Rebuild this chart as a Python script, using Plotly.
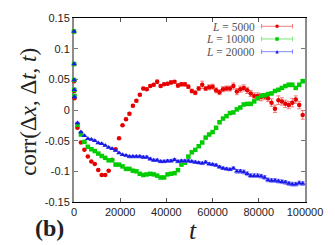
import plotly.graph_objects as go

# ---- data ----
t_start = [0, 20, 50, 100, 200]
t_step = 1500
n_pts = 66
t_main = [t_step * k for k in range(1, n_pts + 1)]
t_vals = t_start + t_main

red_start = [0.128, 0.075, 0.047, 0.031, 0.019]
red_main = [-0.029, -0.053, -0.065, -0.076, -0.084, -0.088, -0.098, -0.106, -0.106, -0.099,
            -0.081, -0.064, -0.046, -0.025, -0.015, -0.006, 0.007, 0.015, 0.025, 0.035,
            0.034, 0.039, 0.041, 0.046, 0.039, 0.042, 0.043, 0.045, 0.046, 0.040,
            0.042, 0.042, 0.038, 0.031, 0.028, 0.035, 0.041, 0.035, 0.037, 0.038,
            0.032, 0.029, 0.034, 0.035, 0.035, 0.039, 0.030, 0.034, 0.036, 0.032,
            0.027, 0.023, 0.023, 0.021, 0.022, 0.019, 0.012, 0.002, 0.016, 0.014,
            0.010, 0.008, 0.012, 0.017, 0.008, -0.008]
red_err_main = [0.001, 0.001, 0.001, 0.001, 0.001, 0.001, 0.001, 0.001, 0.001, 0.001,
                0.001, 0.001, 0.001, 0.001, 0.002, 0.002, 0.002, 0.002, 0.002, 0.002,
                0.002, 0.002, 0.002, 0.003, 0.002, 0.002, 0.002, 0.003, 0.002, 0.003,
                0.003, 0.003, 0.003, 0.003, 0.003, 0.003, 0.006, 0.003, 0.004, 0.004,
                0.004, 0.004, 0.004, 0.004, 0.004, 0.005, 0.005, 0.005, 0.005, 0.005,
                0.005, 0.005, 0.005, 0.006, 0.005, 0.005, 0.006, 0.006, 0.007, 0.006,
                0.006, 0.006, 0.007, 0.006, 0.006, 0.007]

green_start = [0.128, 0.075, 0.049, 0.033, 0.023]
green_main = [-0.024, -0.040, -0.052, -0.060, -0.064, -0.067, -0.071, -0.075, -0.078, -0.082,
              -0.082, -0.089, -0.089, -0.092, -0.096, -0.096, -0.099, -0.100, -0.104, -0.106,
              -0.105, -0.104, -0.105, -0.107, -0.110, -0.110, -0.105, -0.104, -0.103, -0.098,
              -0.089, -0.086, -0.076, -0.069, -0.065, -0.059, -0.053, -0.045, -0.040, -0.036,
              -0.029, -0.020, -0.014, -0.010, -0.005, -0.004, 0.001, 0.004, 0.009, 0.010,
              0.010, 0.014, 0.019, 0.023, 0.024, 0.026, 0.027, 0.031, 0.033, 0.036,
              0.039, 0.041, 0.041, 0.036, 0.041, 0.047]
green_err_main = [0.001, 0.001, 0.001, 0.001, 0.001, 0.001, 0.001, 0.001, 0.001, 0.001,
                  0.001, 0.001, 0.001, 0.001, 0.001, 0.001, 0.001, 0.001, 0.001, 0.001,
                  0.001, 0.001, 0.001, 0.001, 0.001, 0.001, 0.001, 0.001, 0.001, 0.002,
                  0.002, 0.002, 0.002, 0.002, 0.002, 0.002, 0.002, 0.002, 0.002, 0.002,
                  0.002, 0.002, 0.002, 0.002, 0.002, 0.002, 0.002, 0.002, 0.002, 0.002,
                  0.002, 0.002, 0.002, 0.002, 0.002, 0.002, 0.002, 0.002, 0.002, 0.002,
                  0.002, 0.003, 0.003, 0.002, 0.003, 0.003]

blue_start = [0.128, 0.075, 0.049, 0.033, 0.021]
blue_main = [-0.021, -0.036, -0.042, -0.047, -0.048, -0.050, -0.054, -0.055, -0.058, -0.061,
             -0.063, -0.066, -0.070, -0.073, -0.074, -0.076, -0.076, -0.076, -0.076, -0.077,
             -0.077, -0.080, -0.082, -0.082, -0.084, -0.084, -0.083, -0.083, -0.081, -0.084,
             -0.083, -0.083, -0.083, -0.084, -0.085, -0.086, -0.087, -0.085, -0.088, -0.089,
             -0.090, -0.093, -0.095, -0.096, -0.097, -0.095, -0.100, -0.100, -0.101, -0.104,
             -0.107, -0.107, -0.107, -0.108, -0.110, -0.114, -0.115, -0.115, -0.116, -0.117,
             -0.118, -0.120, -0.121, -0.121, -0.119, -0.120]
blue_err_main = [0.001, 0.001, 0.001, 0.001, 0.001, 0.001, 0.001, 0.001, 0.001, 0.001,
                 0.001, 0.001, 0.001, 0.001, 0.001, 0.002, 0.002, 0.002, 0.002, 0.002,
                 0.002, 0.002, 0.002, 0.002, 0.002, 0.002, 0.002, 0.002, 0.002, 0.002,
                 0.002, 0.002, 0.002, 0.002, 0.002, 0.002, 0.002, 0.002, 0.002, 0.002,
                 0.002, 0.002, 0.002, 0.002, 0.002, 0.002, 0.003, 0.003, 0.003, 0.003,
                 0.003, 0.003, 0.003, 0.003, 0.003, 0.003, 0.003, 0.003, 0.003, 0.003,
                 0.003, 0.003, 0.003, 0.003, 0.003, 0.003]

start_err = [0.001, 0.001, 0.001, 0.001, 0.001]

series = [
    ("<i>L</i> = 5000", red_start + red_main, start_err + red_err_main,
     "#e60000", "rgba(240,110,110,0.9)", "circle", 4.5),
    ("<i>L</i> = 10000", green_start + green_main, start_err + green_err_main,
     "#00cc00", "rgba(110,230,110,0.9)", "square", 4.5),
    ("<i>L</i> = 20000", blue_start + blue_main, start_err + blue_err_main,
     "#1a1ae6", "rgba(120,120,255,0.9)", "triangle-up", 5),
]

x_tickvals = [0, 20000, 40000, 60000, 80000, 100000]
x_ticktext = ["0", "20000", "40000", "60000", "80000", "100000"]
y_tickvals = [-0.15, -0.1, -0.05, 0, 0.05, 0.1, 0.15]
y_ticktext = ["-0.15", "-0.1", "-0.05", "0", "0.05", "0.1", "0.15"]

fig = go.Figure()
for name, yv, ev, col, ecol, sym, sz in series:
    fig.add_trace(go.Scatter(
        x=t_vals, y=yv, mode="markers", name=name, cliponaxis=False,
        marker=dict(color=col, symbol=sym, size=sz, line=dict(width=0)),
        error_y=dict(type="data", array=ev, visible=True, color=ecol,
                     thickness=1, width=2),
        showlegend=False, hoverinfo="skip",
    ))

# ---- manual legend (text left, sample right) ----
shapes = []
annotations = []
leg_rows = [0.955, 0.886, 0.817]
for (name, yv, ev, col, ecol, sym, sz), ry in zip(series, leg_rows):
    annotations.append(dict(x=0.79, y=ry, xref="x domain", yref="y domain",
                            text=name, showarrow=False, xanchor="right", yanchor="middle",
                            borderpad=0, height=11,
                            font=dict(family="Liberation Serif", size=11.5, color="#555555")))
    x0, x1, xm = 0.812, 0.946, 0.879
    shapes.append(dict(type="line", xref="x domain", yref="y domain",
                       x0=x0, x1=x1, y0=ry, y1=ry, line=dict(color=ecol, width=1)))
    for xc in (x0, x1):
        shapes.append(dict(type="line", xref="x domain", yref="y domain",
                           x0=xc, x1=xc, y0=ry - 0.012, y1=ry + 0.012,
                           line=dict(color=ecol, width=1)))
    dx, dy = 0.0075, 0.0095
    if sym == "circle":
        shapes.append(dict(type="circle", xref="x domain", yref="y domain",
                           x0=xm - dx, x1=xm + dx, y0=ry - dy, y1=ry + dy,
                           fillcolor=col, line=dict(width=0)))
    elif sym == "square":
        shapes.append(dict(type="rect", xref="x domain", yref="y domain",
                           x0=xm - dx, x1=xm + dx, y0=ry - dy, y1=ry + dy,
                           fillcolor=col, line=dict(width=0)))
    else:
        shapes.append(dict(type="path", xref="x domain", yref="y domain",
                           path=f"M {xm-dx} {ry-dy} L {xm+dx} {ry-dy} L {xm} {ry+dy} Z",
                           fillcolor=col, line=dict(width=0)))

annotations.append(dict(x=-0.195, y=0.49, xref="paper", yref="paper",
                        text="corr(Δ<i>x</i>, Δ<i>t</i>, <i>t</i>)", textangle=-90,
                        showarrow=False, xanchor="center", yanchor="middle",
                        font=dict(family="Liberation Serif", size=23, color="#222222")))
annotations.append(dict(x=0.515, y=-0.155, xref="paper", yref="paper",
                        text="<i>t</i>", showarrow=False, xanchor="center", yanchor="middle",
                        font=dict(family="Liberation Serif", size=26, color="#222222")))
annotations.append(dict(x=-0.105, y=-0.139, xref="paper", yref="paper",
                        text="<b>(b)</b>", showarrow=False, xanchor="center", yanchor="middle",
                        font=dict(family="Liberation Serif", size=24, color="#222222")))

fig.update_layout(
    width=335, height=245,
    margin=dict(l=74, r=22, t=15, b=43),
    paper_bgcolor="white", plot_bgcolor="white",
    shapes=shapes, annotations=annotations,
    font=dict(family="Liberation Sans", size=11, color="#222222"),
    xaxis=dict(range=[0, 100000], tickvals=x_tickvals, ticktext=x_ticktext,
               showgrid=False, zeroline=False, showline=True, linecolor="black",
               linewidth=1, mirror="ticks", ticks="inside", ticklen=4,
               tickcolor="#555555", layer="below traces",
               tickfont=dict(family="Liberation Sans", size=11, color="#222222")),
    yaxis=dict(range=[-0.15, 0.15], tickvals=y_tickvals, ticktext=y_ticktext,
               showgrid=False, zeroline=False, showline=True, linecolor="#8c8c8c",
               linewidth=2, mirror="ticks", ticks="inside", ticklen=4,
               tickcolor="#777777", layer="below traces",
               tickfont=dict(family="Liberation Sans", size=11, color="#222222")),
)

fig.write_html("out.html", config={"displayModeBar": False},
               post_script="document.body.style.margin='0px';document.body.style.overflow='hidden';")
